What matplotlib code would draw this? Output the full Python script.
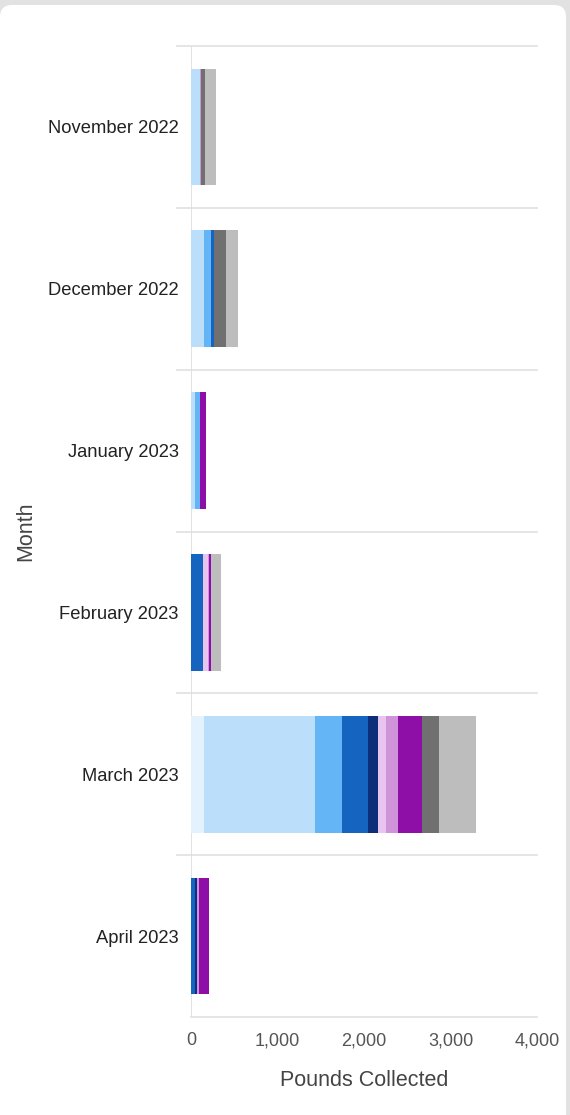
import matplotlib
matplotlib.use("Agg")
import matplotlib.pyplot as plt
import matplotlib.patches as mpatches
from matplotlib.ticker import FuncFormatter
import numpy as np

plt.rcParams['font.family'] = ['Liberation Sans', 'DejaVu Sans']

months = ["November 2022", "December 2022", "January 2023",
          "February 2023", "March 2023", "April 2023"]

series_colors = ["#e3f2fd", "#bbdefb", "#64b5f6", "#1565c0", "#0d2f7a",
                 "#e8c4ef", "#ce93d8", "#8e0ea8", "#707070", "#bdbdbd"]

# pounds per month, one list per stacked segment
s1 = [0, 0, 0, 0, 150, 0]
s2 = [105, 145, 45, 0, 1283, 0]
s3 = [0, 88, 60, 0, 309, 0]
s4 = [0, 30, 0, 142, 301, 46]
s5 = [0, 0, 0, 0, 123, 20]
s6 = [0, 0, 0, 55, 86, 0]
s7 = [6, 0, 0, 8, 146, 25]
s8 = [0, 0, 70, 30, 274, 112]
s9 = [55, 143, 0, 0, 200, 0]
s10 = [120, 134, 0, 108, 421, 0]
series = [s1, s2, s3, s4, s5, s6, s7, s8, s9, s10]

xticks = [0, 1000, 2000, 3000, 4000]

fig = plt.figure(figsize=(5.7, 11.15), dpi=100)
fig.patch.set_facecolor("#e2e2e2")

# white rounded card behind the chart
card = mpatches.FancyBboxPatch((0.0, -0.2), 5.66, 11.3,
                               boxstyle="round,pad=0,rounding_size=0.12",
                               transform=fig.dpi_scale_trans,
                               facecolor="white", edgecolor="none", zorder=-5)
fig.patches.append(card)

ax = fig.add_axes([191 / 570, 1 - 1017 / 1115, 346 / 570, 971 / 1115])
ax.set_zorder(2)
ax.set_facecolor("none")

y = np.arange(len(months))
left = np.zeros(len(months))
for vals, col in zip(series, series_colors):
    vals = np.array(vals, dtype=float)
    ax.barh(y, vals, left=left, height=0.72, color=col, linewidth=0, zorder=2)
    left += vals

ax.set_xlim(0, 4000)
ax.set_ylim(len(months) - 0.5, -0.5)

# separators between month bands
for b in np.arange(-0.5, len(months), 1.0):
    xmin = 0 if b == len(months) - 0.5 else -0.04
    ax.axhline(b, xmin=xmin, xmax=1, color="#e0e0e0", linewidth=1.2,
               clip_on=False, zorder=1)
ax.axvline(0, color="#dddddd", linewidth=1.2, zorder=1)

for s in ax.spines.values():
    s.set_visible(False)

ax.set_xticks(xticks)
ax.xaxis.set_major_formatter(FuncFormatter(lambda v, p: f"{int(v):,}"))
ax.set_yticks(y)
ax.set_yticklabels(months)
ax.tick_params(axis="x", length=0, pad=11, labelsize=13, labelcolor="#555555")
ax.tick_params(axis="y", length=0, pad=9, labelsize=13.2, labelcolor="#222222")

ax.set_xlabel("Pounds Collected", fontsize=15.5, color="#444444", labelpad=15)
ax.set_ylabel("Month", fontsize=15.5, color="#444444", labelpad=8)

fig.savefig("out.png", dpi=100, facecolor=fig.get_facecolor())
